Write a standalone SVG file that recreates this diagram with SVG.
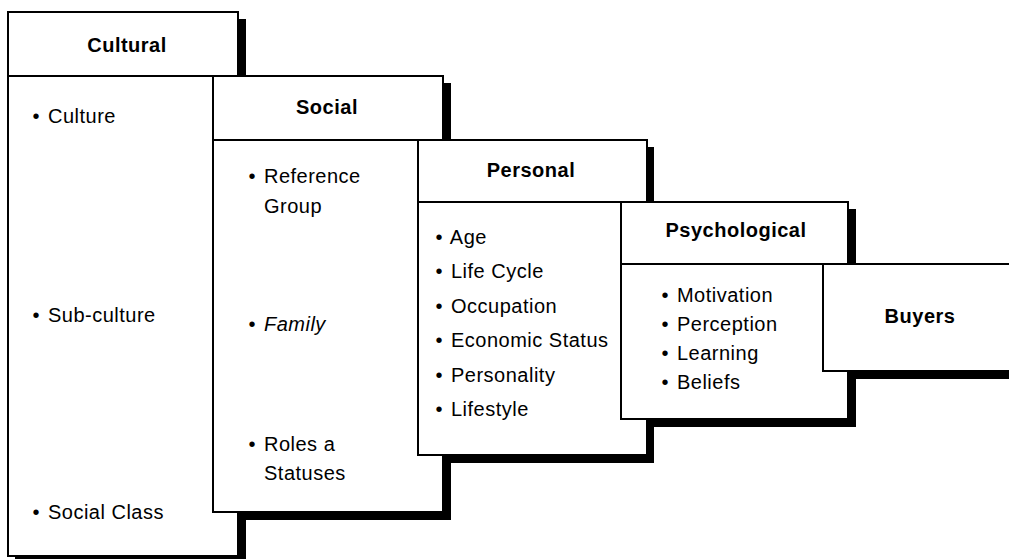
<svg xmlns="http://www.w3.org/2000/svg" width="1009" height="559" viewBox="0 0 1009 559">
<style>
  .box { fill: #ffffff; stroke: #000000; stroke-width: 2; }
  .div { stroke: #000000; stroke-width: 2; fill: none; }
  .shadow { fill: #000000; }
  .hd { font-family: "Liberation Sans", Arial, sans-serif; font-weight: bold; font-size: 20px; letter-spacing: 0.5px; fill: #000; text-anchor: middle; }
  .it { font-family: "Liberation Sans", Arial, sans-serif; font-size: 20px; letter-spacing: 0.5px; fill: #000; }
  .em { font-style: italic; }
</style>
<rect x="0" y="0" width="1009" height="559" fill="#ffffff"/>
<g id="shadows">
  <rect class="shadow" x="15" y="19" width="231" height="545"/>
  <rect class="shadow" x="220" y="83" width="231" height="437"/>
  <rect class="shadow" x="425" y="147" width="229" height="316"/>
  <rect class="shadow" x="628" y="209" width="228" height="218"/>
  <rect class="shadow" x="830" y="271" width="200" height="108"/>
</g>
<g id="connectors"></g>
<g id="cultural">
  <rect class="box" x="8" y="12" width="230" height="544"/>
  <line class="div" x1="8" y1="76" x2="238" y2="76"/>
  <text class="hd" x="127" y="52">Cultural</text>
  <text class="it" x="32.4" y="123">• <tspan dx="2">Culture</tspan></text>
  <text class="it" x="32.4" y="322">• <tspan dx="2">Sub-culture</tspan></text>
  <text class="it" x="32.4" y="519">• <tspan dx="2">Social Class</tspan></text>
</g>
<g id="social">
  <rect class="box" x="213" y="76" width="230" height="436"/>
  <line class="div" x1="213" y1="140" x2="443" y2="140"/>
  <text class="hd" x="327" y="114">Social</text>
  <text class="it" x="248.4" y="183">• <tspan dx="2">Reference</tspan></text>
  <text class="it" x="264" y="213">Group</text>
  <text class="it" x="248.4" y="331">• <tspan dx="2" class="em">Family</tspan></text>
  <text class="it" x="248.4" y="451">• <tspan dx="2">Roles a</tspan></text>
  <text class="it" x="264" y="480">Statuses</text>
</g>
<g id="personal">
  <rect class="box" x="418" y="140" width="229" height="315"/>
  <line class="div" x1="418" y1="202" x2="647" y2="202"/>
  <text class="hd" x="531" y="177">Personal</text>
  <text class="it" x="435.4" y="244">• <tspan dx="2">Age</tspan></text>
  <text class="it" x="435.4" y="278">• <tspan dx="2">Life Cycle</tspan></text>
  <text class="it" x="435.4" y="313">• <tspan dx="2">Occupation</tspan></text>
  <text class="it" x="435.4" y="347">• <tspan dx="2">Economic Status</tspan></text>
  <text class="it" x="435.4" y="382">• <tspan dx="2">Personality</tspan></text>
  <text class="it" x="435.4" y="416">• <tspan dx="2">Lifestyle</tspan></text>
</g>
<g id="psychological">
  <rect class="box" x="621" y="202" width="227" height="217"/>
  <line class="div" x1="621" y1="264" x2="848" y2="264"/>
  <text class="hd" x="736" y="237">Psychological</text>
  <text class="it" x="661.4" y="302">• <tspan dx="2">Motivation</tspan></text>
  <text class="it" x="661.4" y="331">• <tspan dx="2">Perception</tspan></text>
  <text class="it" x="661.4" y="360">• <tspan dx="2">Learning</tspan></text>
  <text class="it" x="661.4" y="389">• <tspan dx="2">Beliefs</tspan></text>
</g>
<g id="buyers">
  <rect class="box" x="823" y="264" width="200" height="107"/>
  <text class="hd" x="920" y="323">Buyers</text>
</g>
</svg>
